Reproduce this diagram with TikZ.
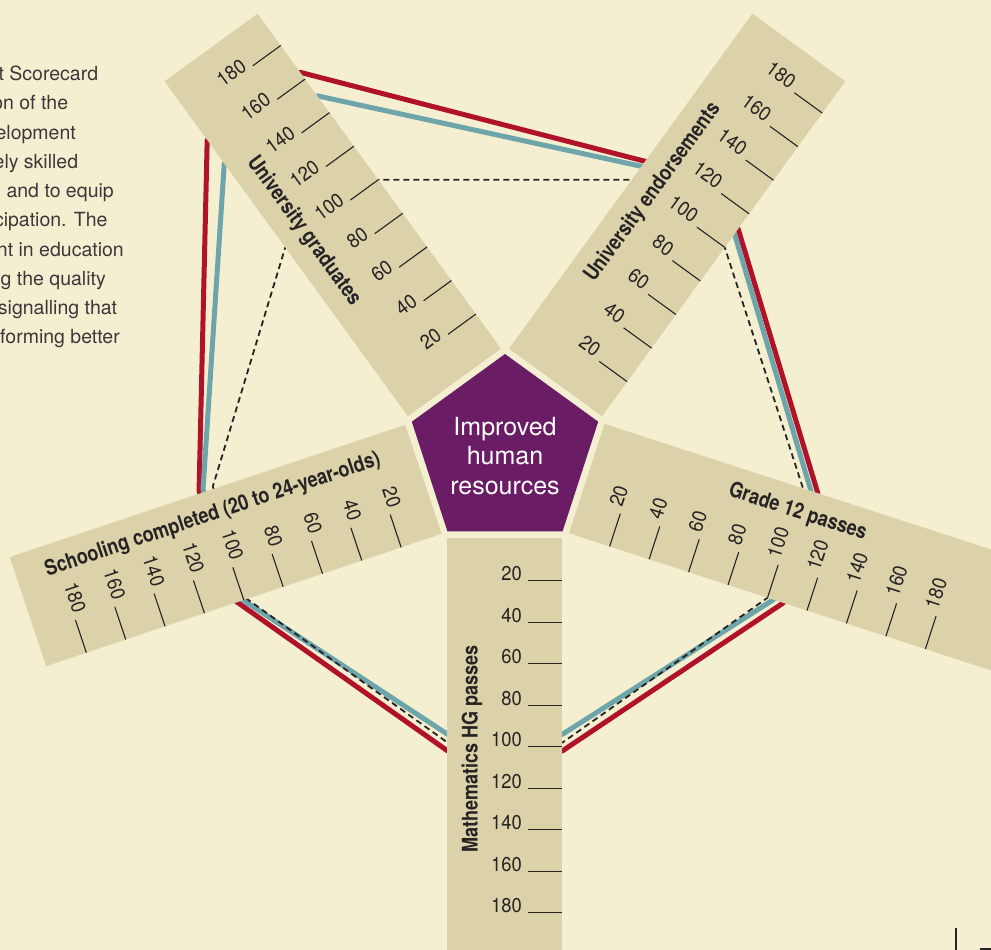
\documentclass[tikz,border=0pt]{standalone}
\usepackage{fontspec}
\setmainfont{TeX Gyre Heros}
\newfontfamily\numfont[FakeStretch=0.92]{TeX Gyre Heros}
\newfontfamily\titfont[FakeStretch=0.84]{TeX Gyre Heros}
\usetikzlibrary{calc}
\definecolor{bgc}{HTML}{F5EFD2}
\definecolor{stripc}{HTML}{DBD2AA}
\definecolor{purp}{HTML}{6A1C64}
\definecolor{redc}{HTML}{B0122A}
\definecolor{tealc}{HTML}{6EA5AA}
\definecolor{inkc}{HTML}{262324}
\definecolor{bodyc}{HTML}{3A3839}
\tikzset{
 tickline/.style={draw=inkc, line width=1.1pt},
 numlab/.style={inner sep=0pt, text=inkc, font=\numfont\fontsize{20}{20}\selectfont},
 titlab/.style={inner sep=0pt, text=inkc, font=\titfont\bfseries\fontsize{21.5}{24}\selectfont},
 redline/.style={draw=redc, line width=5pt, line join=round},
 tealline/.style={draw=tealc, line width=5pt, line join=round},
 dashline/.style={draw=inkc, line width=1.8pt, dash pattern=on 6pt off 4pt},
 bodytxt/.style={inner sep=0pt, text=bodyc, font=\fontsize{19.5}{19.5}\selectfont, anchor=base east},
 coretxt/.style={inner sep=0pt, text=white, align=center, font=\fontsize{25}{29.3}\selectfont},
}
\newcommand\edgept[4]{\begin{scope}[rotate=#2]\coordinate (#1) at ({87.2+2.075*#3},{#4*57.5});\end{scope}}
\newcommand\mkstrip[8]{%
 \begin{scope}[rotate=#1]
  \fill[stripc] (86,-57.5) rectangle (#3,57.5);
  \foreach \v in {20,40,...,180}{
   \draw[tickline] ({87.2+2.075*\v},{#2*23}) -- ({87.2+2.075*\v},{#2*57.5});
   \node[numlab, anchor=#5, rotate=#4] (#8-\v) at ({87.2+2.075*\v},{#2*17}) {\v};
  }
  \node[titlab, rotate=#7] (#8-t) at (297,{-#2*33}) {#6};
 \end{scope}}
\begin{document}
\begin{tikzpicture}[x=1pt,y=1pt]
\useasboundingbox (-505,-498) rectangle (486,452);
\fill[bgc] (-505,-498) rectangle (486,452);
\clip (-505,-498) rectangle (486,452);
% left body text (column clipped by the left edge)
\node[bodytxt] (tx1) at (-406.7,371.3) {t Scorecard};
\node[bodytxt] (tx2) at (-436.7,342.05) {on of the};
\node[bodytxt] (tx3) at (-429,312.8) {elopment};
\node[bodytxt] (tx4) at (-426.7,283.55) {ely skilled};
\node[bodytxt] (tx5) at (-391,254.3) {and to equip};
\node[bodytxt] (tx6) at (-397.3,225.05) {cipation. The};
\node[bodytxt] (tx7) at (-381,195.8) {nt in education};
\node[bodytxt] (tx8) at (-399,166.55) {g the quality};
\node[bodytxt] (tx9) at (-387.7,137.3) {signalling that};
\node[bodytxt] (tx10) at (-385,108.05) {forming better};
% radar lines
\edgept{r1}{126}{164}{1}\edgept{r2}{126}{164}{-1}
\edgept{r3}{54}{111}{1}\edgept{r4}{54}{111}{-1}
\edgept{r5}{-18}{107.5}{1}\edgept{r6}{-18}{108}{-1}
\edgept{r7}{-90}{102}{1}\edgept{r8}{-90}{102}{-1}
\edgept{r9}{198}{104}{1}\edgept{r10}{198}{104}{-1}
\draw[redline] (r1)--(r2)--(r3)--(r4)--(r5)--(r6)--(r7)--(r8)--(r9)--(r10)--cycle;
\edgept{t1}{126}{150}{1}\edgept{t2}{126}{150}{-1}
\edgept{t3}{54}{108}{1}\edgept{t4}{54}{108}{-1}
\edgept{t5}{-18}{104}{1}\edgept{t6}{-18}{103}{-1}
\edgept{t7}{-90}{94}{1}\edgept{t8}{-90}{94}{-1}
\edgept{t9}{198}{101}{1}\edgept{t10}{198}{102}{-1}
\draw[tealline] (t1)--(t2)--(t3)--(t4)--(t5)--(t6)--(t7)--(t8)--(t9)--(t10)--cycle;
\edgept{d1}{126}{100}{1}\edgept{d2}{126}{100}{-1}
\edgept{d3}{54}{100}{1}\edgept{d4}{54}{100}{-1}
\edgept{d5}{-18}{100}{1}\edgept{d6}{-18}{100}{-1}
\edgept{d7}{-90}{98}{1}\edgept{d8}{-90}{98}{-1}
\edgept{d9}{198}{99}{1}\edgept{d10}{198}{97}{-1}
\draw[dashline] (d1)--(d2)--(d3)--(d4)--(d5)--(d6)--(d7)--(d8)--(d9)--(d10)--cycle;
% strips
\mkstrip{-90}{1}{530}{0}{base east}{Mathematics HG passes}{90}{math}
\mkstrip{126}{-1}{500}{36}{base east}{University graduates}{-54}{ugrad}
\mkstrip{54}{-1}{500}{-36}{base east}{University endorsements}{54}{uend}
\mkstrip{-18}{-1}{530}{72}{base west}{Grade 12 passes}{-18}{gtw}
\mkstrip{198.5}{1}{503}{-71.5}{base east}{Schooling completed (20 to 24-year-olds)}{18.5}{scho}
% core pentagon
\fill[purp] (90:98)--(162:98)--(234:98)--(306:98)--(18:98)--cycle;
\node[coretxt] (core) at (0,-4) {Improved\\human\\resources};
% page corner marks
\draw[inkc, line width=1.2pt] (451,-476) -- (451,-498);
\fill[inkc] (475,-496.3) rectangle (486,-498);
\end{tikzpicture}
\end{document}
